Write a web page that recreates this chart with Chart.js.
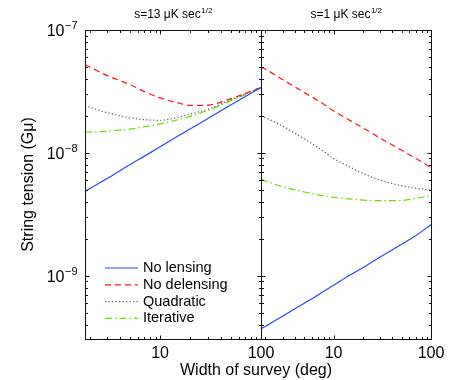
<!DOCTYPE html>
<html>
<head>
<meta charset="utf-8">
<script src="https://cdn.jsdelivr.net/npm/chart.js@4/dist/chart.umd.min.js"></script>
<style>
  body { margin: 0; background: #fff; }
  #wrap { position: relative; width: 469px; height: 380px; }
  canvas { position: absolute; left: 0; top: 0; }
</style>
</head>
<body>
<div id="wrap">
  <canvas id="chartA" width="469" height="380"></canvas>
  <canvas id="chartB" width="469" height="380"></canvas>
</div>
<script>
// survey width (deg)
var surveyWidth = [1.8, 2, 3, 5, 7, 10, 15, 20, 30, 50, 70, 100];

// s = 13 uK sec^1/2
var noLensingA   = [4.86e-9, 5.1e-9, 6.2e-9, 8.0e-9, 9.4e-9, 1.12e-8, 1.37e-8, 1.57e-8, 1.91e-8, 2.45e-8, 2.88e-8, 3.4e-8];
var noDelensingA = [5.2e-8, 5.0e-8, 4.25e-8, 3.6e-8, 3.15e-8, 2.8e-8, 2.55e-8, 2.43e-8, 2.45e-8, 2.75e-8, 3.05e-8, 3.4e-8];
var quadraticA   = [2.42e-8, 2.35e-8, 2.12e-8, 1.93e-8, 1.86e-8, 1.84e-8, 1.95e-8, 2.07e-8, 2.27e-8, 2.7e-8, 3.02e-8, 3.4e-8];
var iterativeA   = [1.48e-8, 1.48e-8, 1.5e-8, 1.56e-8, 1.63e-8, 1.72e-8, 1.86e-8, 1.99e-8, 2.22e-8, 2.65e-8, 2.98e-8, 3.4e-8];

// s = 1 uK sec^1/2
var noLensingB   = [3.7e-10, 3.87e-10, 4.68e-10, 5.97e-10, 7.0e-10, 8.35e-10, 1.02e-9, 1.16e-9, 1.42e-9, 1.8e-9, 2.12e-9, 2.6e-9];
var noDelensingB = [5.0e-8, 4.8e-8, 3.95e-8, 3.1e-8, 2.65e-8, 2.2e-8, 1.82e-8, 1.6e-8, 1.32e-8, 1.05e-8, 9.0e-9, 7.6e-9];
var quadraticB   = [2.0e-8, 1.93e-8, 1.65e-8, 1.3e-8, 1.1e-8, 9.0e-9, 7.6e-9, 6.8e-9, 6.0e-9, 5.4e-9, 5.15e-9, 5.0e-9];
var iterativeB   = [6.1e-9, 5.9e-9, 5.3e-9, 4.8e-9, 4.55e-9, 4.35e-9, 4.2e-9, 4.12e-9, 4.08e-9, 4.1e-9, 4.25e-9, 4.5e-9];

var seriesNames = ['No lensing', 'No delensing', 'Quadratic', 'Iterative'];
var xTickValues = [10, 100];
var yTickExps = [-9, -8, -7];

var lineStyles = [
  { color: 'rgb(40,70,255)', dash: [] },
  { color: 'rgb(255,20,20)', dash: [6, 4] },
  { color: 'rgb(90,90,90)', dash: [1.2, 2.3] },
  { color: 'rgb(100,225,0)', dash: [7, 3, 1.5, 3] }
];

var FONT = '"Liberation Sans", Arial, Helvetica, sans-serif';

function pts(ys) {
  return surveyWidth.map(function (x, i) { return { x: x, y: ys[i] }; });
}

function drawSup(ctx, base, sup, x, y, size, align) {
  ctx.font = size + 'px ' + FONT;
  var w1 = ctx.measureText(base).width;
  ctx.font = Math.round(size * 0.7) + 'px ' + FONT;
  var w2 = ctx.measureText(sup).width;
  var start = x;
  if (align === 'center') start = x - (w1 + w2) / 2;
  if (align === 'right') start = x - (w1 + w2);
  ctx.textAlign = 'left';
  ctx.textBaseline = 'alphabetic';
  ctx.font = size + 'px ' + FONT;
  ctx.fillText(base, start, y);
  ctx.font = Math.round(size * 0.7) + 'px ' + FONT;
  ctx.fillText(sup, start + w1 + 0.5, y - size * 0.42);
}

// frame, inward ticks, labels (matlab style)
var framePlugin = {
  id: 'frame',
  afterDatasetsDraw: function (chart, args, o) {
    var ctx = chart.ctx, a = chart.chartArea;
    var xs = chart.scales.x, ys = chart.scales.y;
    ctx.save();
    ctx.strokeStyle = '#111';
    ctx.lineWidth = 1;
    ctx.setLineDash([]);
    var L = Math.round(a.left) + 0.5, R = Math.round(a.right) + 0.5;
    var T = Math.round(a.top) + 0.5, B = Math.round(a.bottom) + 0.5;
    ctx.strokeRect(L, T, R - L, B - T);

    ctx.beginPath();
    for (var d = 1; d <= 100; d *= 10) {
      for (var m = 1; m < 10; m++) {
        var v = d * m;
        if (v < xs.min || v > xs.max) continue;
        var px = Math.round(xs.getPixelForValue(v)) + 0.5;
        var len = m === 1 ? 4 : 2.5;
        ctx.moveTo(px, B); ctx.lineTo(px, B - len);
        ctx.moveTo(px, T); ctx.lineTo(px, T + len);
      }
    }
    for (var e = -10; e <= -8; e++) {
      for (var k = 1; k < 10; k++) {
        var yv = k * Math.pow(10, e);
        if (yv < ys.min * 0.999 || yv > ys.max * 1.001) continue;
        var py = Math.round(ys.getPixelForValue(yv)) + 0.5;
        var ln = k === 1 ? 4 : 2.5;
        ctx.moveTo(L, py); ctx.lineTo(L + ln, py);
        ctx.moveTo(R, py); ctx.lineTo(R - ln, py);
      }
    }
    ctx.moveTo(L, T); ctx.lineTo(L + 4, T);
    ctx.moveTo(R, T); ctx.lineTo(R - 4, T);
    ctx.stroke();

    ctx.fillStyle = '#000';
    ctx.font = '16px ' + FONT;
    ctx.textAlign = 'center';
    ctx.textBaseline = 'alphabetic';
    o.xLabels.forEach(function (v) {
      ctx.fillText(String(v), xs.getPixelForValue(v), 358);
    });

    if (o.yLabels) {
      yTickExps.forEach(function (ex) {
        var py = ys.getPixelForValue(Math.pow(10, ex));
        drawSup(ctx, '10', '\u2212' + (-ex), 77, py + 6, 16, 'right');
      });
      ctx.save();
      ctx.translate(33, (a.top + a.bottom) / 2);
      ctx.rotate(-Math.PI / 2);
      ctx.font = '16px ' + FONT;
      ctx.textAlign = 'center';
      ctx.fillText('String tension (G\u03bc)', 0, 0);
      ctx.restore();
      ctx.font = '16px ' + FONT;
      ctx.textAlign = 'center';
      ctx.fillText('Width of survey (deg)', 256, 375);
    }

    drawSup(ctx, o.title, '1/2', (a.left + a.right) / 2, 18, 12, 'center');

    if (o.legend) {
      var lx = 105, ly = 268;
      chart.data.datasets.forEach(function (ds, i) {
        var yy = ly + i * 16.8;
        ctx.strokeStyle = ds.borderColor;
        ctx.lineWidth = 1.2;
        ctx.setLineDash(ds.borderDash || []);
        ctx.beginPath();
        ctx.moveTo(lx, yy); ctx.lineTo(lx + 33, yy);
        ctx.stroke();
        ctx.fillStyle = '#000';
        ctx.font = '14.5px ' + FONT;
        ctx.textAlign = 'left';
        ctx.textBaseline = 'middle';
        ctx.fillText(ds.label, lx + 38, yy);
      });
    }
    ctx.restore();
  }
};

function makeChart(id, series, pad, opts) {
  return new Chart(document.getElementById(id), {
    type: 'line',
    data: {
      datasets: series.map(function (ys, i) {
        return {
          label: seriesNames[i],
          data: pts(ys),
          borderColor: lineStyles[i].color,
          borderDash: lineStyles[i].dash,
          borderWidth: 1.2,
          pointRadius: 0,
          cubicInterpolationMode: 'monotone',
          fill: false
        };
      })
    },
    options: {
      responsive: false,
      animation: false,
      devicePixelRatio: 1,
      layout: { padding: pad },
      scales: {
        x: { type: 'logarithmic', min: 1.8, max: 100, display: false },
        y: { type: 'logarithmic', min: 3.05e-10, max: 1e-7, display: false }
      },
      plugins: {
        legend: { display: false },
        tooltip: { enabled: false },
        frame: opts
      }
    },
    plugins: [framePlugin]
  });
}

makeChart('chartA', [noLensingA, noDelensingA, quadraticA, iterativeA],
  { left: 85, right: 208, top: 30, bottom: 41 },
  { title: 's=13 \u03bcK sec', xLabels: xTickValues, yLabels: true, legend: true });

makeChart('chartB', [noLensingB, noDelensingB, quadraticB, iterativeB],
  { left: 261, right: 38, top: 30, bottom: 41 },
  { title: 's=1 \u03bcK sec', xLabels: xTickValues, yLabels: false, legend: false });
</script>
</body>
</html>
